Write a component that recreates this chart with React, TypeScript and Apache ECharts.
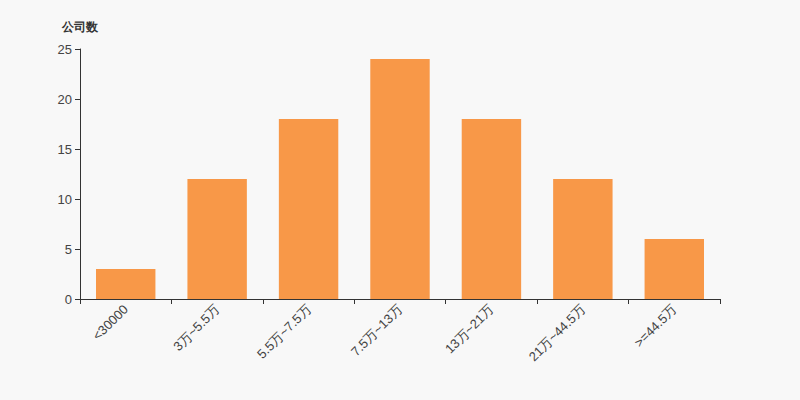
import React, { useEffect, useRef } from "react";
import * as echarts from "echarts";

const categories = ["<30000", "3万~5.5万", "5.5万~7.5万", "7.5万~13万", "13万~21万", "21万~44.5万", ">=44.5万"];
const values = [3, 12, 18, 24, 18, 12, 6];
const yAxisName = "公司数";

export default function App() {
  const ref = useRef<HTMLDivElement>(null);
  useEffect(() => {
    const chart = echarts.init(ref.current!, null, { renderer: "svg" });
    chart.setOption({
      animation: false,
      backgroundColor: "#f8f8f8",
      grid: { left: 80, right: 80, top: 49, bottom: 101 },
      xAxis: {
        type: "category",
        data: categories,
        axisLine: { lineStyle: { color: "#333", width: 1 } },
        axisTick: { show: true, alignWithLabel: false },
        axisLabel: { rotate: 45, color: "#444", fontSize: 13, interval: 0, fontFamily: "sans-serif" },
      },
      yAxis: {
        type: "value",
        name: yAxisName,
        nameTextStyle: { color: "#333", fontWeight: "bold", fontSize: 12, align: "center", padding: [0, 0, 0, 0] },
        nameGap: 16,
        min: 0,
        max: 25,
        interval: 5,
        axisLine: { show: true, lineStyle: { color: "#333" } },
        axisTick: { show: true },
        splitLine: { show: false },
        axisLabel: { color: "#444", fontSize: 13, fontFamily: "sans-serif" },
      },
      series: [
        {
          type: "bar",
          data: values,
          barWidth: "65%",
          itemStyle: { color: "#f89848" },
        },
      ],
    });
    return () => chart.dispose();
  }, []);
  return <div ref={ref} style={{ width: 800, height: 400, position: "absolute", left: 0, top: 0 }} />;
}
